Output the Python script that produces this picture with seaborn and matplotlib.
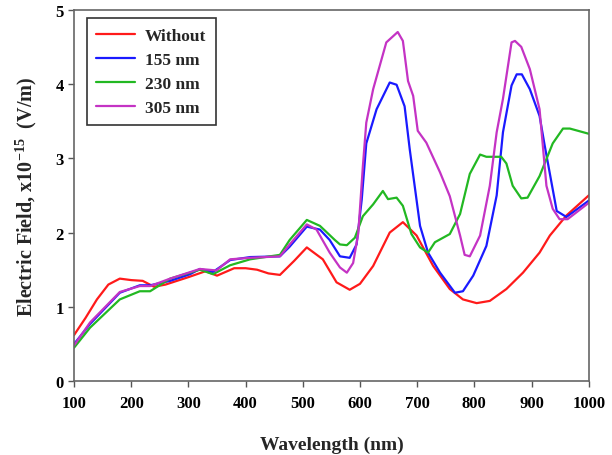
import pandas as pd
import matplotlib
matplotlib.use('Agg')
import matplotlib.pyplot as plt
import seaborn as sns

# Dữ liệu
wl_without = [100, 120, 140, 160, 180, 200, 220, 240, 260, 300, 330, 350, 380, 400, 420, 440,
              460, 485, 507, 535, 559, 582, 600, 623, 652, 675, 699, 728, 757, 780, 804, 827,
              856, 885, 914, 932, 961, 1000]
e_without = [0.62, 0.85, 1.1, 1.3, 1.38, 1.36, 1.35, 1.27, 1.3, 1.4, 1.48, 1.42, 1.52, 1.52, 1.5, 1.45,
             1.43, 1.62, 1.8, 1.64, 1.33, 1.23, 1.31, 1.55, 2.0, 2.14, 1.96, 1.55, 1.24, 1.1, 1.05, 1.08,
             1.24, 1.46, 1.73, 1.96, 2.23, 2.5]

wl_155 = [100, 128, 180, 215, 233, 268, 303, 320, 343, 373, 408, 460, 477, 507, 530, 547, 565,
          582, 594, 603, 611, 629, 652, 664, 678, 687, 705, 719, 740, 766, 780, 798, 821, 839,
          850, 865, 874, 883, 897, 914, 923, 944, 961, 1000]
e_155 = [0.5, 0.77, 1.19, 1.29, 1.29, 1.35, 1.44, 1.51, 1.47, 1.63, 1.67, 1.68, 1.81, 2.08, 2.04, 1.9, 1.68,
         1.66, 1.84, 2.44, 3.2, 3.66, 4.02, 3.99, 3.7, 3.12, 2.09, 1.73, 1.46, 1.19, 1.21, 1.42, 1.82, 2.5,
         3.35, 3.98, 4.13, 4.13, 3.93, 3.57, 3.17, 2.29, 2.21, 2.43]

wl_230 = [100, 128, 180, 215, 233, 268, 320, 343, 373, 408, 460, 477, 507, 530, 556, 565, 577,
          591, 605, 623, 640, 649, 664, 675, 690, 705, 719, 731, 757, 775, 792, 810, 821, 847,
          856, 867, 882, 893, 914, 937, 955, 967, 1000]
e_230 = [0.45, 0.72, 1.1, 1.21, 1.21, 1.38, 1.5, 1.44, 1.56, 1.64, 1.7, 1.9, 2.17, 2.09, 1.9, 1.84, 1.83,
         1.93, 2.22, 2.38, 2.56, 2.45, 2.47, 2.36, 1.98, 1.8, 1.73, 1.87, 1.98, 2.25, 2.79, 3.05, 3.02, 3.02,
         2.93, 2.63, 2.46, 2.47, 2.76, 3.2, 3.4, 3.4, 3.33]

wl_305 = [100, 128, 180, 215, 233, 268, 320, 349, 373, 408, 460, 477, 507, 524, 547, 565, 577,
          588, 597, 605, 611, 623, 646, 666, 675, 684, 693, 701, 716, 740, 757, 775, 783, 792,
          810, 827, 839, 850, 865, 871, 882, 897, 914, 926, 937, 949, 963, 1000]
e_305 = [0.48, 0.79, 1.2, 1.28, 1.28, 1.38, 1.51, 1.49, 1.64, 1.66, 1.68, 1.84, 2.11, 2.04, 1.73, 1.53, 1.46,
         1.59, 1.99, 2.89, 3.48, 3.93, 4.56, 4.7, 4.58, 4.04, 3.84, 3.37, 3.21, 2.81, 2.49, 1.96, 1.7, 1.68,
         1.96, 2.63, 3.35, 3.8, 4.56, 4.58, 4.5, 4.2, 3.66, 2.63, 2.32, 2.18, 2.18, 2.4]

series_names = ['Without', '155 nm', '230 nm', '305 nm']
series_colors = ['#ff1a1a', '#1a1aff', '#22b822', '#c433c4']

frames = []
for name, wl, e in zip(series_names,
                       [wl_without, wl_155, wl_230, wl_305],
                       [e_without, e_155, e_230, e_305]):
    frames.append(pd.DataFrame({'Wavelength': wl, 'E': e, 'Sample': name}))
df = pd.concat(frames, ignore_index=True)

sns.set_style('ticks')
plt.rcParams['font.family'] = ['Liberation Serif', 'DejaVu Serif']
plt.rcParams['font.weight'] = 'bold'
plt.rcParams['mathtext.fontset'] = 'custom'
plt.rcParams['mathtext.bf'] = 'Liberation Serif:bold'
plt.rcParams['mathtext.rm'] = 'Liberation Serif:bold'

fig = plt.figure(figsize=(6.12, 4.56), dpi=100)
ax = fig.add_axes([0.121, 0.162, 0.841, 0.8145])

sns.lineplot(data=df, x='Wavelength', y='E', hue='Sample', hue_order=series_names,
             palette=series_colors, linewidth=1.6, sort=False, estimator=None, ax=ax)

ax.set_xlim(100, 1000)
ax.set_ylim(0, 5)
ax.set_xticks(range(100, 1001, 100))
ax.set_yticks(range(0, 6))
ax.tick_params(axis='both', direction='out', length=4, width=1, colors='#555555',
               labelcolor='black', labelsize=12)
ax.tick_params(axis='x', pad=6)
for lbl in ax.get_xticklabels() + ax.get_yticklabels():
    lbl.set_fontweight('bold')
for sp in ax.spines.values():
    sp.set_visible(True)
    sp.set_color('#666666')
    sp.set_linewidth(1.2)

ax.set_xlabel('Wavelength (nm)', fontsize=14, fontweight='bold', labelpad=18)
ax.set_ylabel(r'Electric Field, x10$^{\mathbf{-15}}$  (V/m)', fontsize=14.5,
              fontweight='bold', labelpad=12)

leg = ax.legend(loc='upper left', bbox_to_anchor=(0.025, 0.977), borderaxespad=0,
                fontsize=12.5, frameon=True, fancybox=False, handlelength=2.2,
                borderpad=0.55, labelspacing=0.45, handletextpad=0.6)
leg.get_frame().set_edgecolor('#333333')
leg.get_frame().set_linewidth(1.2)
leg.get_frame().set_alpha(1)
for t in leg.get_texts():
    t.set_fontweight('bold')
for line in leg.get_lines():
    line.set_linewidth(1.6)

fig.savefig('out.png', dpi=100)
